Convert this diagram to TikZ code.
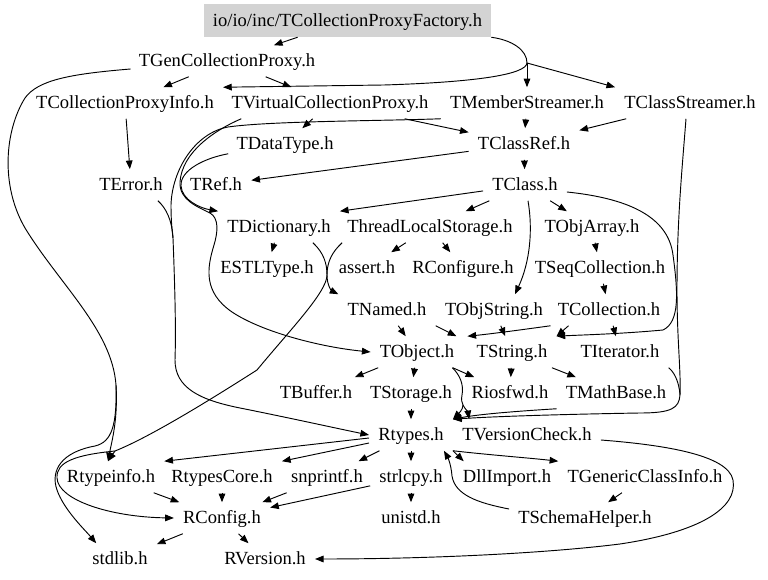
\documentclass[tikz,border=0pt]{standalone}
\usepackage{fontspec}
\setmainfont{Liberation Serif}
\usetikzlibrary{arrows.meta,calc}
\definecolor{rootgray}{RGB}{211,211,211}
\begin{document}
\begin{tikzpicture}[x=0.75pt,y=-0.75pt,
  lbl/.style={inner xsep=6.75pt, inner ysep=0pt, minimum height=23.25pt, text height=11pt, text depth=2pt, font=\fontsize{13.9pt}{16pt}\selectfont},
  rootbox/.style={lbl, fill=rootgray, minimum width=213.75pt, minimum height=24.75pt},
  dep/.style={draw=black, line width=0.7pt, -{Triangle[length=6.5pt,width=5pt]}},
  ln/.style={draw=black, line width=0.7pt}]
\useasboundingbox (0,0) rectangle (768,580);
% nodes
\node[rootbox] (root) at (347.5,20.5) {io/io/inc/TCollectionProxyFactory.h};
\node[lbl] (gen) at (227,61) {TGenCollectionProxy.h};
\node[lbl] (cpi) at (125,103) {TCollectionProxyInfo.h};
\node[lbl] (vcp) at (330,103) {TVirtualCollectionProxy.h};
\node[lbl] (mem) at (527,103) {TMemberStreamer.h};
\node[lbl] (cls) at (690,103) {TClassStreamer.h};
\node[lbl] (dt) at (285,144) {TDataType.h};
\node[lbl] (cref) at (524,144) {TClassRef.h};
\node[lbl] (err) at (131,185) {TError.h};
\node[lbl] (ref) at (216,185) {TRef.h};
\node[lbl] (tclass) at (525,185) {TClass.h};
\node[lbl] (dict) at (279,227) {TDictionary.h};
\node[lbl] (tls) at (430,227) {ThreadLocalStorage.h};
\node[lbl] (objarr) at (592,227) {TObjArray.h};
\node[lbl] (estl) at (267,268) {ESTLType.h};
\node[lbl] (assert) at (367,268) {assert.h};
\node[lbl] (rconfigure) at (463,268) {RConfigure.h};
\node[lbl] (seq) at (600,268) {TSeqCollection.h};
\node[lbl] (named) at (387,310) {TNamed.h};
\node[lbl] (objstr) at (494,310) {TObjString.h};
\node[lbl] (coll) at (609,310) {TCollection.h};
\node[lbl] (tobject) at (417,352) {TObject.h};
\node[lbl] (tstring) at (512,352) {TString.h};
\node[lbl] (iter) at (620,352) {TIterator.h};
\node[lbl] (buffer) at (316,393) {TBuffer.h};
\node[lbl] (storage) at (411,393) {TStorage.h};
\node[lbl] (riosfwd) at (510,393) {Riosfwd.h};
\node[lbl] (mathbase) at (616,393) {TMathBase.h};
\node[lbl] (rtypes) at (411,435) {Rtypes.h};
\node[lbl] (vcheck) at (527,435) {TVersionCheck.h};
\node[lbl] (rtypeinfo) at (111,477) {Rtypeinfo.h};
\node[lbl] (rtcore) at (222,477) {RtypesCore.h};
\node[lbl] (snprintf) at (327,477) {snprintf.h};
\node[lbl] (strlcpy) at (411,477) {strlcpy.h};
\node[lbl] (dll) at (507,477) {DllImport.h};
\node[lbl] (gci) at (645,477) {TGenericClassInfo.h};
\node[lbl] (rconfig) at (222,518) {RConfig.h};
\node[lbl] (unistd) at (411,518) {unistd.h};
\node[lbl] (schema) at (585,518) {TSchemaHelper.h};
\node[lbl] (stdlib) at (120,559) {stdlib.h};
\node[lbl] (rversion) at (265,559) {RVersion.h};
% junctions
\coordinate (j1) at (527,63);
\coordinate (j2) at (116,385);
\coordinate (j3) at (257,370);
\coordinate (j4) at (115,451);
\coordinate (j5) at (173,238);
\coordinate (j6) at (680,395);
\coordinate (j7) at (463,405);
% root edges
\draw[dep] (root) -- (gen);
\draw[ln] (root.south east) .. controls (512,40) and (527,50) .. (j1);
\draw[dep] (j1) .. controls (526,74) and (480,82) .. (384,85) -- (cpi.north east);
\draw[dep] (j1) -- (mem);
\draw[dep] (j1) -- (cls.north west);
% TGenCollectionProxy
\draw[dep] (gen) -- (cpi);
\draw[dep] (gen) -- (vcp);
\draw[ln] ($(gen.west)+(1,8)$) .. controls (70,74) and (38,80) .. (25,98) .. controls (5,130) and (0,185) .. (25,228) .. controls (60,285) and (112,330) .. (j2);
\draw[dep] (j2) .. controls (118,420) and (112,440) .. ($(rtypeinfo.north)+(-3,0)$);
\draw[dep] (j2) .. controls (117,425) and (112,442) .. (95,446) .. controls (62,452) and (50,470) .. (57,490) .. controls (64,510) and (85,530) .. ($(stdlib.north west)+(13,0)$);
% TCollectionProxyInfo
\draw[dep] (cpi) -- (err);
% TVirtualCollectionProxy
\draw[dep] (vcp) -- (cref);
\draw[dep] (vcp) -- (dt);
\draw[dep] ($(vcp.south west)+(19,0)$) .. controls (215,130) and (182,152) .. (180,182) .. controls (179,200) and (198,207) .. (210,213) .. controls (219,218) and (218,232) .. (214,245) .. controls (207,268) and (203,292) .. (232,312) .. controls (262,332) and (320,347) .. (tobject.west);
% TMemberStreamer
\draw[dep] (mem) -- (cref);
\draw[ln] (mem.south west) .. controls (380,121) and (270,121) .. (228,127) .. controls (195,133) and (172,170) .. (171,205) .. controls (171,220) and (172,230) .. (j5);
% TError
\draw[ln] ($(err.south east)+(-14,0)$) .. controls (166,208) and (172,220) .. (j5);
\draw[dep] (j5) .. controls (175,290) and (176,330) .. (175,360) .. controls (175,388) and (200,400) .. (240,408) .. controls (290,418) and (335,428) .. (rtypes.west);
% TClassStreamer
\draw[dep] (cls) -- (cref);
\draw[ln] ($(cls.south)+(-4,0)$) .. controls (682,170) and (677,220) .. (677,290) .. controls (677,340) and (681,370) .. (j6);
\draw[ln] (iter.south east) .. controls (673,371) and (679,380) .. (j6);
\draw[dep] (j6) .. controls (679,408) and (672,413) .. (640,413) .. controls (580,414) and (500,416) .. (rtypes.north east);
% TDataType
\draw[dep] ($(dt.south west)+(1,-6)$) .. controls (205,158) and (180,170) .. (181,186) .. controls (182,200) and (200,208) .. (dict.north west);
% TClassRef
\draw[dep] (cref) -- (ref);
\draw[dep] (cref) -- (tclass);
% TClass
\draw[dep] (tclass) -- (dict.north east);
\draw[dep] (tclass) -- (tls);
\draw[dep] (tclass) -- (objarr);
\draw[dep] ($(tclass.south)+(3,0)$) .. controls (533,230) and (530,262) .. ($(objstr.north)+(21,0)$);
\draw[dep] ($(tclass.east)+(0,7)$) .. controls (625,198) and (668,215) .. (673,255) .. controls (678,292) and (680,322) .. (663,330) .. controls (620,334) and (580,335) .. (tstring.north east);
% TDictionary
\draw[dep] (dict) -- (estl);
\draw[dep] ($(dict.south east)+(-27,0)$) .. controls (324,253) and (327,264) .. (327,275) .. controls (327,286) and (332,291) .. (named.north west);
% ThreadLocalStorage
\draw[dep] (tls) -- (assert);
\draw[dep] (tls) -- (rconfigure);
\draw[ln] ($(tls.south west)+(4,0)$) .. controls (332,252) and (327,262) .. (327,275) .. controls (327,292) and (290,330) .. (j3);
\draw[ln] (j3) .. controls (210,400) and (150,437) .. (j4);
\draw[dep] (j4) -- ($(rtypeinfo.north)+(-3,0)$);
\draw[dep] (j4) .. controls (75,455) and (56,462) .. (57,478) .. controls (58,500) and (110,517) .. (rconfig.west);
% collections
\draw[dep] (objarr) -- (seq);
\draw[dep] (seq) -- (coll);
\draw[dep] (coll) -- (iter);
\draw[dep] ($(coll.south west)+(20,0)$) -- (tstring.north east);
\draw[dep] ($(coll.south west)+(2,0)$) .. controls (520,330) and (490,334) .. ($(tobject.north east)+(4,0)$);
\draw[dep] (objstr.south west) -- ($(tobject.north east)+(-7,0)$);
\draw[dep] (objstr) -- (tstring);
\draw[dep] (named) -- (tobject);
% TObject
\draw[dep] (tobject) -- (buffer);
\draw[dep] (tobject) -- (storage);
\draw[dep] (tobject) -- (riosfwd);
\draw[ln] ($(tobject.south east)+(-11,0)$) .. controls (460,375) and (464,385) .. (462,395) .. controls (461,400) and (462,403) .. (j7);
\draw[dep] (j7) .. controls (463,410) and (458,414) .. (rtypes.north east);
\draw[dep] (j7) .. controls (465,409) and (468,412) .. ($(vcheck.north west)+(16,0)$);
% TString
\draw[dep] (tstring) -- (riosfwd);
\draw[dep] (tstring) -- (mathbase);
\draw[dep] (mathbase.south west) .. controls (520,411) and (480,414) .. (rtypes.north east);
\draw[dep] (storage) -- (rtypes);
% Rtypes
\draw[dep] ($(rtypes.west)+(0,3)$) -- (rtypeinfo.north east);
\draw[dep] ($(rtypes.west)+(0,8)$) -- (rtcore.north east);
\draw[dep] (rtypes) -- (snprintf);
\draw[dep] (rtypes) -- (strlcpy);
\draw[dep] (rtypes.south east) -- ($(dll.north west)+(10,0)$);
\draw[dep] (rtypes.south east) .. controls (490,455) and (530,458) .. (gci.north west);
\draw[dep] ($(schema.west)+(0,-9)$) .. controls (478,503) and (455,495) .. (452,476) .. controls (451,463) and (447,456) .. ($(rtypes.south east)+(-9,0)$);
\draw[dep] (gci) -- (schema);
\draw[dep] ($(vcheck.east)+(0,5)$) .. controls (665,445) and (728,455) .. (733,480) .. controls (738,508) and (700,532) .. (620,544) .. controls (540,554) and (420,559) .. (rversion.east);
% lower rows
\draw[dep] (rtcore) -- (rconfig);
\draw[dep] (rtypeinfo) -- (rconfig);
\draw[dep] (snprintf) -- (rconfig);
\draw[dep] (strlcpy) -- (rconfig);
\draw[dep] (strlcpy) -- (unistd);
\draw[dep] (rconfig) -- (stdlib);
\draw[dep] (rconfig) -- (rversion);
\end{tikzpicture}
\end{document}
